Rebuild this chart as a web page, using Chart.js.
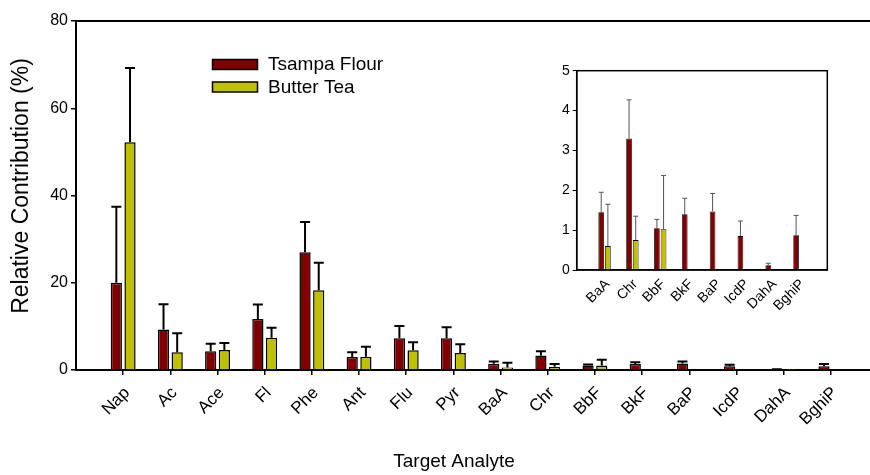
<!DOCTYPE html>
<html><head><meta charset="utf-8">
<script src="https://cdn.jsdelivr.net/npm/chart.js@4"></script>
<style>
html,body{margin:0;padding:0;background:#fff;overflow:hidden}
#wrap{position:relative;width:870px;height:475px;overflow:hidden;background:#fff}
#main{position:absolute;left:0;top:0}
#inset{position:absolute;left:530px;top:50px}
</style></head><body>
<div id="wrap"><canvas id="main" width="880" height="475"></canvas><canvas id="inset" width="320" height="300"></canvas></div>
<script>
// ---- data ----
const analytes = ['Nap','Ac','Ace','Fl','Phe','Ant','Flu','Pyr','BaA','Chr','BbF','BkF','BaP','IcdP','DahA','BghiP'];
const tsampaFlour   = [20.0, 9.3, 4.3, 11.7, 27.0, 3.0, 7.3, 7.3, 1.45, 3.3, 1.05, 1.4, 1.47, 0.85, 0.12, 0.87];
const tsampaFlourSD = [17.4, 5.8, 1.7,  3.3,  6.9, 1.05, 2.8, 2.5, 0.5, 0.97, 0.22, 0.4, 0.45, 0.38, 0.05, 0.5];
const butterTea     = [52.2, 4.05, 4.6, 7.4, 18.3, 3.05, 4.5, 3.9, 0.6, 0.75, 1.02, 0, 0, 0, 0.01, 0];
const butterTeaSD   = [17.0, 4.35, 1.6, 2.3,  6.3, 2.3, 1.85, 2.0, 1.05, 0.6, 1.35, 0, 0, 0, 0, 0];
const seriesNames = ['Tsampa Flour', 'Butter Tea'];
const yTicksMain = [0, 20, 40, 60, 80];
const yTicksInset = [0, 1, 2, 3, 4, 5];
const insetFrom = 8; // BaA .. BghiP
const xTitle = 'Target Analyte';
const yTitle = 'Relative Contribution (%)';

const RED = '#800000', YEL = '#BEC000';
const FONT = "'Liberation Sans', Arial, sans-serif";

function pts(arr) { return arr.map((v, i) => ({x: i, y: v})); }

function errorBarPlugin(id, errs, cap, lw, color) {
  return {
    id,
    afterDatasetsDraw(chart) {
      const ctx = chart.ctx, ys = chart.scales.y;
      ctx.save();
      ctx.strokeStyle = color; ctx.lineWidth = lw;
      chart.data.datasets.forEach((ds, d) => {
        const meta = chart.getDatasetMeta(d);
        meta.data.forEach((bar, i) => {
          const sd = errs[d][i];
          if (!sd) return;
          const v = ds.data[i].y;
          const yt = ys.getPixelForValue(v + sd);
          const x = bar.x;
          ctx.beginPath();
          ctx.moveTo(x, bar.y); ctx.lineTo(x, yt);
          ctx.moveTo(x - cap / 2, yt); ctx.lineTo(x + cap / 2, yt);
          ctx.stroke();
        });
      });
      ctx.restore();
    }
  };
}

const mainDecor = {
  id: 'mainDecor',
  afterDraw(chart) {
    const ctx = chart.ctx, a = chart.chartArea;
    ctx.save();
    // top frame line
    ctx.strokeStyle = '#000'; ctx.lineWidth = 2;
    ctx.beginPath(); ctx.moveTo(a.left - 1, a.top); ctx.lineTo(chart.width, a.top); ctx.stroke();
    // legend
    const lx = 212.5, ly = [59.5, 82], bw = 45, bh = 10;
    ctx.font = '19px ' + FONT; ctx.textBaseline = 'middle'; ctx.fillStyle = '#000';
    chart.data.datasets.forEach((ds, d) => {
      ctx.fillStyle = ds.backgroundColor;
      ctx.fillRect(lx, ly[d], bw, bh);
      ctx.lineWidth = 1.5; ctx.strokeStyle = '#000';
      ctx.strokeRect(lx, ly[d], bw, bh);
      ctx.fillStyle = '#000';
      ctx.fillText(ds.label, 268, ly[d] + bh / 2 + 0.5);
    });
    // axis titles
    ctx.font = '19px ' + FONT; ctx.textAlign = 'center'; ctx.textBaseline = 'alphabetic';
    ctx.fillText(xTitle, 454, 467);
    ctx.translate(28, 186); ctx.rotate(-Math.PI / 2);
    ctx.font = '23px ' + FONT;
    ctx.fillText(yTitle, 0, 0);
    ctx.restore();
  }
};

new Chart(document.getElementById('main'), {
  type: 'bar',
  data: {
    datasets: [
      {label: seriesNames[0], data: pts(tsampaFlour), backgroundColor: RED, borderColor: '#000', borderWidth: 1.5},
      {label: seriesNames[1], data: pts(butterTea), backgroundColor: YEL, borderColor: '#000', borderWidth: 1.5}
    ]
  },
  options: {
    responsive: false, animation: false,
    layout: {padding: {left: 0, top: 21, right: 2, bottom: 0}},
    datasets: {bar: {categoryPercentage: 0.58, barPercentage: 0.82, grouped: true}},
    plugins: {legend: {display: false}, tooltip: {enabled: false}},
    scales: {
      x: {
        type: 'linear', min: -1, max: 16, offset: false,
        afterBuildTicks: s => { s.ticks = analytes.map((_, i) => ({value: i})); },
        ticks: {autoSkip: false, minRotation: 45, maxRotation: 45, color: '#000',
          font: {family: FONT, size: 17}, padding: 8, labelOffset: 4, callback: v => analytes[v] ?? ''},
        grid: {drawOnChartArea: false, drawTicks: true, tickLength: 5, color: '#000', lineWidth: 1.5, offset: false},
        border: {display: true, color: '#000', width: 2},
        afterFit: s => { s.height = 105; }
      },
      y: {
        type: 'linear', min: 0, max: 80,
        afterBuildTicks: s => { s.ticks = yTicksMain.map(v => ({value: v})); },
        ticks: {color: '#000', font: {family: FONT, size: 16}, padding: 3},
        grid: {drawOnChartArea: false, drawTicks: true, tickLength: 5, color: '#000', lineWidth: 1.5},
        border: {display: true, color: '#000', width: 2},
        afterFit: s => { s.width = 76; }
      }
    }
  },
  plugins: [errorBarPlugin('errMain', [tsampaFlourSD, butterTeaSD], 10, 2, '#000'), mainDecor]
});

// ---- inset ----
const insetLabels = analytes.slice(insetFrom);
const insetFrame = {
  id: 'insetFrame',
  afterDraw(chart) {
    const ctx = chart.ctx, a = chart.chartArea;
    ctx.save(); ctx.strokeStyle = '#000'; ctx.lineWidth = 1.5;
    ctx.strokeRect(a.left, a.top, a.right - a.left, a.bottom - a.top);
    ctx.restore();
  }
};
new Chart(document.getElementById('inset'), {
  type: 'bar',
  data: {
    datasets: [
      {label: seriesNames[0], data: pts(tsampaFlour.slice(insetFrom)), backgroundColor: RED, borderColor: '#000', borderWidth: 0.8},
      {label: seriesNames[1], data: pts(butterTea.slice(insetFrom)), backgroundColor: YEL, borderColor: '#000', borderWidth: 0.8}
    ]
  },
  options: {
    responsive: false, animation: false,
    layout: {padding: {left: 0, top: 20.7, right: 22.7, bottom: 0}},
    datasets: {bar: {categoryPercentage: 0.48, barPercentage: 0.85}},
    plugins: {legend: {display: false}, tooltip: {enabled: false}},
    scales: {
      x: {
        type: 'linear', min: -1, max: 8, offset: false,
        afterBuildTicks: s => { s.ticks = insetLabels.map((_, i) => ({value: i})); },
        ticks: {autoSkip: false, minRotation: 45, maxRotation: 45, color: '#000',
          font: {family: FONT, size: 14}, padding: 6, labelOffset: 3, callback: v => insetLabels[v] ?? ''},
        grid: {drawOnChartArea: false, drawTicks: false, offset: false},
        border: {display: true, color: '#000', width: 1.5},
        afterFit: s => { s.height = 80; }
      },
      y: {
        type: 'linear', min: 0, max: 5,
        afterBuildTicks: s => { s.ticks = yTicksInset.map(v => ({value: v})); },
        ticks: {color: '#000', font: {family: FONT, size: 14}, padding: 3},
        grid: {drawOnChartArea: false, drawTicks: true, tickLength: 4, color: '#000', lineWidth: 1},
        border: {display: true, color: '#000', width: 1.5},
        afterFit: s => { s.width = 46.7; }
      }
    }
  },
  plugins: [errorBarPlugin('errInset', [tsampaFlourSD.slice(insetFrom), butterTeaSD.slice(insetFrom)], 5, 1, '#555'), insetFrame]
});
</script>
</body></html>
